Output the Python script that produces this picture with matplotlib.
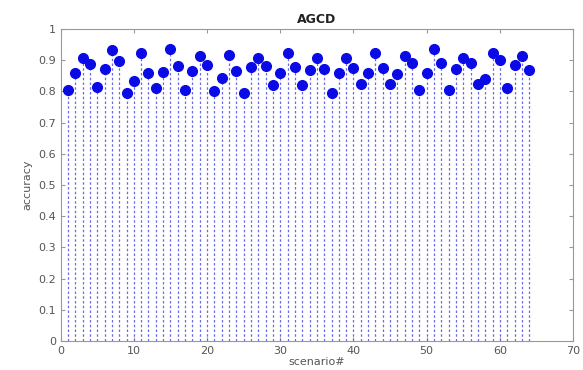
import matplotlib
matplotlib.use('Agg')
import matplotlib.pyplot as plt
import numpy as np

# scenario numbers and accuracy
scenario = list(range(1, 65))
accuracy = [0.805, 0.858, 0.908, 0.886, 0.815, 0.870, 0.933, 0.897, 0.795, 0.832,
            0.924, 0.858, 0.812, 0.862, 0.937, 0.880, 0.804, 0.864, 0.914, 0.884,
            0.800, 0.844, 0.916, 0.864, 0.796, 0.877, 0.906, 0.880, 0.820, 0.858,
            0.924, 0.877, 0.820, 0.867, 0.908, 0.870, 0.796, 0.858, 0.906, 0.875,
            0.822, 0.858, 0.924, 0.875, 0.822, 0.855, 0.913, 0.891, 0.804, 0.858,
            0.935, 0.891, 0.804, 0.870, 0.908, 0.891, 0.825, 0.840, 0.924, 0.900,
            0.810, 0.884, 0.913, 0.867]

title = 'AGCD'
xlabel = 'scenario#'
ylabel = 'accuracy'

fig = plt.figure(figsize=(5.83, 3.70), dpi=100)
ax = fig.add_axes([0.104, 0.078, 0.879, 0.844])

blue = '#0a0ae6'
ml, sl, bl = ax.stem(scenario, accuracy, linefmt='--', markerfmt='o', basefmt=' ')
sl.set_color('#6a6ae8')
sl.set_linewidth(0.9)
sl.set_linestyle((0, (2.0, 1.8)))
plt.setp(ml, color=blue, markersize=7, markerfacecolor=blue, markeredgecolor=blue)

ax.set_xlim(0, 70)
ax.set_ylim(0, 1)
ax.set_xticks(np.arange(0, 71, 10))
ax.set_yticks(np.arange(0, 1.01, 0.1))
ax.set_yticklabels(['0', '0.1', '0.2', '0.3', '0.4', '0.5', '0.6', '0.7', '0.8', '0.9', '1'])

grey = '#555555'
for s in ax.spines.values():
    s.set_color('#999999')
    s.set_linewidth(0.8)
ax.tick_params(direction='in', top=True, right=True, length=3, colors='#999999',
               labelcolor=grey, labelsize=8)

ax.set_title(title, fontsize=9, fontweight='bold', color='#222222', pad=4)
ax.set_xlabel(xlabel, fontsize=8, color=grey, labelpad=1)
ax.set_ylabel(ylabel, fontsize=8, color=grey, labelpad=4)

fig.savefig('out.png', dpi=100)
